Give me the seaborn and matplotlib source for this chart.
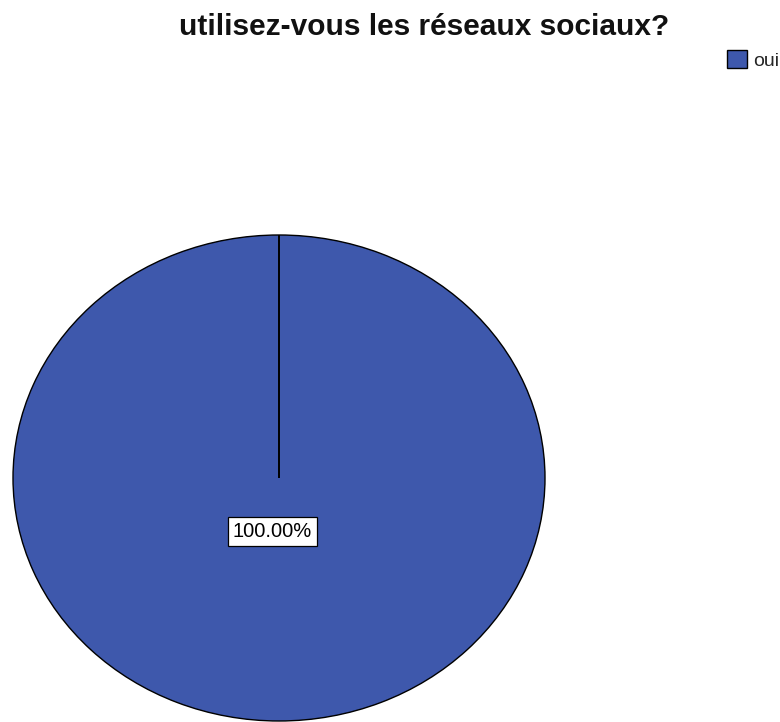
import matplotlib
matplotlib.use("Agg")
import matplotlib.pyplot as plt
import seaborn as sns

# Survey answers
categories = ["oui"]
percentages = [100.0]
title_text = "utilisez-vous les réseaux sociaux?"
colors = ["#3E58AC"]

sns.set_theme(style="white")
plt.rcParams["font.family"] = ["Liberation Sans", "DejaVu Sans"]

W, H = 780, 722
fig = plt.figure(figsize=(W / 100, H / 100), dpi=100)
fig.patch.set_facecolor("white")

# Pie area (elliptical, stretched by the axes box)
ax = fig.add_axes([13 / W, 1 - 721 / H, 532 / W, 486 / H])
wedges, _ = ax.pie(
    percentages,
    colors=colors,
    startangle=90,
    counterclock=False,
    radius=1.0,
    wedgeprops=dict(edgecolor="black", linewidth=1.0),
)
ax.set_aspect("auto")
ax.set_xlim(-1.0, 1.0)
ax.set_ylim(-1.0, 1.0)
ax.axis("off")

# Slice boundary from the centre to the starting angle
ax.plot([0, 0], [0, 1.0], color="black", linewidth=1.4, solid_capstyle="butt")

# Percentage label
ax.text(
    -0.024, -0.22, f"{percentages[0]:.2f}%",
    ha="center", va="center", fontsize=14.5, color="black",
    bbox=dict(boxstyle="square,pad=0.25", facecolor="white",
              edgecolor="black", linewidth=0.9),
)

# Title
fig.text(424 / W, 1 - 27 / H, title_text, ha="center", va="center",
         fontsize=21.5, fontweight="bold", color="#111111")

# Legend
fig.legend(
    wedges, categories,
    loc="upper left", bbox_to_anchor=(727 / W, 1 - 50 / H),
    frameon=False, fontsize=14, handlelength=1.03, handleheight=1.03,
    handletextpad=0.3, borderpad=0, borderaxespad=0,
)

fig.savefig("out.png", dpi=100, facecolor="white")
